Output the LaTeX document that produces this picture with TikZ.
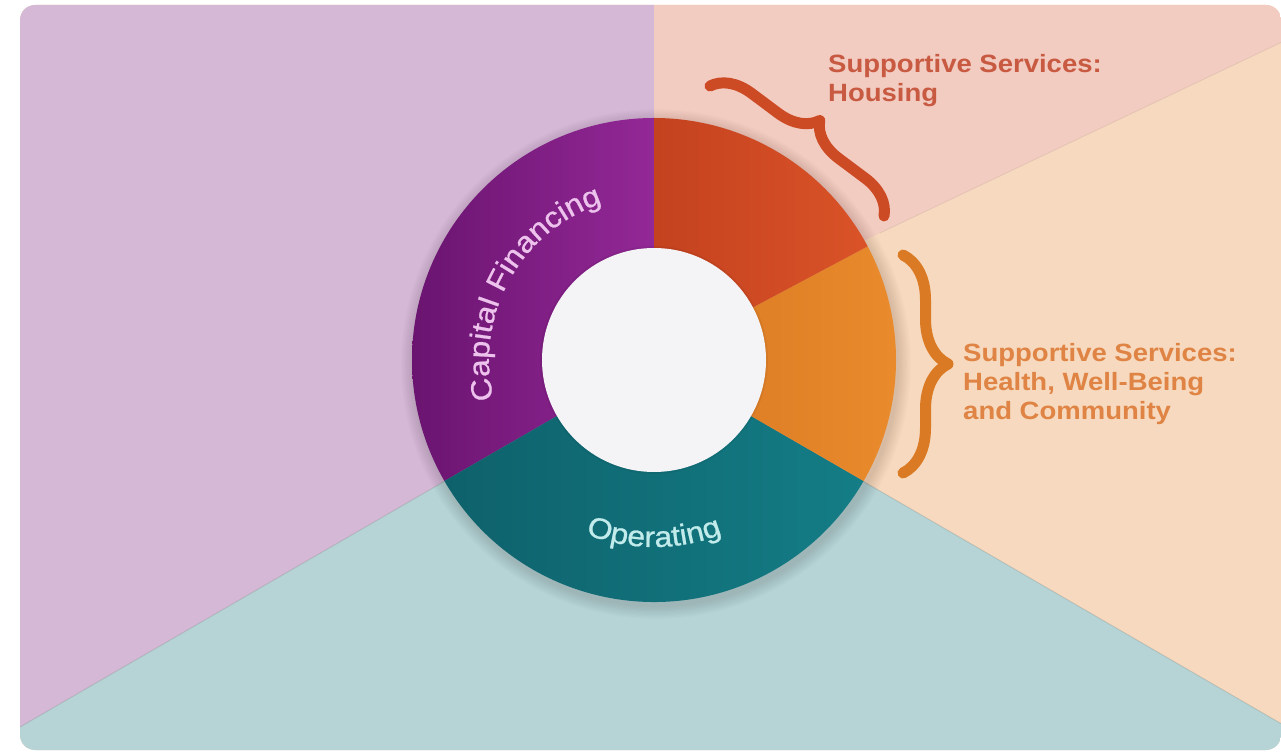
\documentclass[tikz,border=0pt]{standalone}
\usepackage{fontspec}
\setmainfont{Liberation Sans}
\newfontfamily\labfont[FakeStretch=1.1]{Liberation Sans}
\newfontfamily\ringfont[FakeStretch=1.1,FakeBold=0.8]{Liberation Sans}
\usetikzlibrary{calc,decorations.pathreplacing,decorations.text}
\definecolor{bgpurple}{HTML}{D5B8D6}
\definecolor{bgpink}{HTML}{F2CBC1}
\definecolor{bgpeach}{HTML}{F6D9BE}
\definecolor{bgteal}{HTML}{B6D4D6}
\definecolor{purpA}{HTML}{6A1470}
\definecolor{purpB}{HTML}{932896}
\definecolor{redA}{HTML}{C4421F}
\definecolor{redB}{HTML}{DA5328}
\definecolor{orA}{HTML}{D87822}
\definecolor{orB}{HTML}{EA8B2D}
\definecolor{tealA}{HTML}{0E616B}
\definecolor{tealB}{HTML}{147D86}
\definecolor{capfg}{HTML}{EDC2EC}
\definecolor{opfg}{HTML}{C2ECEC}
\definecolor{housfg}{HTML}{C85A42}
\definecolor{healthfg}{HTML}{DF8444}
\definecolor{housbrace}{HTML}{CC4A24}
\definecolor{healthbrace}{HTML}{DB7A25}
\definecolor{innerfill}{HTML}{F4F4F7}
\tikzset{
  labeltext/.style={anchor=base west, inner sep=0pt, align=left,
    font=\labfont\bfseries\fontsize{25}{29}\selectfont},
  bracestroke/.style={decorate, decoration={brace, amplitude=#1},
    line width=11pt, line cap=round, line join=round},
  seamline/.style={line width=1pt, black, opacity=0.10}
}
\begin{document}
\begin{tikzpicture}[x=1pt,y=1pt]
\useasboundingbox (0,0) rectangle (1281,752);
\fill[white] (0,0) rectangle (1281,752);
\coordinate (C) at (654,392);
% background sectors
\begin{scope}
  \clip[rounded corners=15pt] (20,2) rectangle (1281,747);
  \fill[bgpeach] (0,0) rectangle (1281,752);
  \fill[bgpurple] (C) -- (654,760) -- (-10,760) -- ($(C)!1.05!(20,25)$) -- cycle;
  \fill[bgteal] (C) -- ($(C)!1.05!(20,25)$) -- (-10,-10) -- (1300,-10) -- ($(C)!1.05!(1280,29)$) -- cycle;
  \fill[bgpink] (C) -- (654,760) -- (1300,760) -- ($(880,519)!1.06!(1280,709)$) -- (880,519) -- (654,411) -- cycle;
  \draw[seamline] (C) -- ($(C)!1.05!(20,25)$);
  \draw[seamline] (C) -- ($(C)!1.05!(1280,29)$);
  \draw[seamline, opacity=0.05] (880,519) -- ($(880,519)!1.06!(1280,709)$);
\end{scope}
% soft shadow of the ring
\foreach \i in {1,...,10}
  \fill[black, opacity=0.011] ($(C)+(2,-4)$) circle ({242+\i*1.3});
% ring segments
\shade[left color=purpA, right color=purpB] (C) -- ++(90:242) arc[start angle=90, end angle=210, radius=242] -- cycle;
\shade[left color=tealA, right color=tealB] (C) -- ++(210:242) arc[start angle=210, end angle=330, radius=242] -- cycle;
\shade[left color=orA, right color=orB] (C) -- ++(-30:242) arc[start angle=-30, end angle=28, radius=242] -- cycle;
\shade[left color=redA, right color=redB] (C) -- ++(28:242) arc[start angle=28, end angle=90, radius=242] -- cycle;
% inner circle
\fill[black, opacity=0.05] (C) circle (114);
\fill[innerfill] (C) circle (112);
\node[circle, minimum size=10pt, inner sep=0pt] (hub) at (C) {};
% ring texts
\path[decorate, decoration={text along path, text align=center, text color=capfg,
  text={|\ringfont\fontsize{29}{32}\selectfont|Capital Financing}}]
  (C) ++(215:165) arc[start angle=215, end angle=87, radius=165];
\path[decorate, decoration={text along path, text align=center, text color=opfg,
  text={|\ringfont\fontsize{29}{32}\selectfont|Operating}}]
  (C) ++(235:187) arc[start angle=235, end angle=305, radius=187];
% braces
\coordinate (hb1) at (710,666);
\coordinate (hb2) at (884,536);
\draw[bracestroke=38pt, housbrace] (hb1) -- (hb2);
\coordinate (wb1) at (903,497);
\coordinate (wb2) at (903,279);
\draw[bracestroke=45pt, healthbrace] (wb1) -- (wb2);
% labels
\node[labeltext, text=housfg] (housing) at (828,650) {Supportive Services:\\Housing};
\node[labeltext, text=healthfg] (health) at (963,332) {Supportive Services:\\Health, Well-Being\\and Community};
\end{tikzpicture}
\end{document}
